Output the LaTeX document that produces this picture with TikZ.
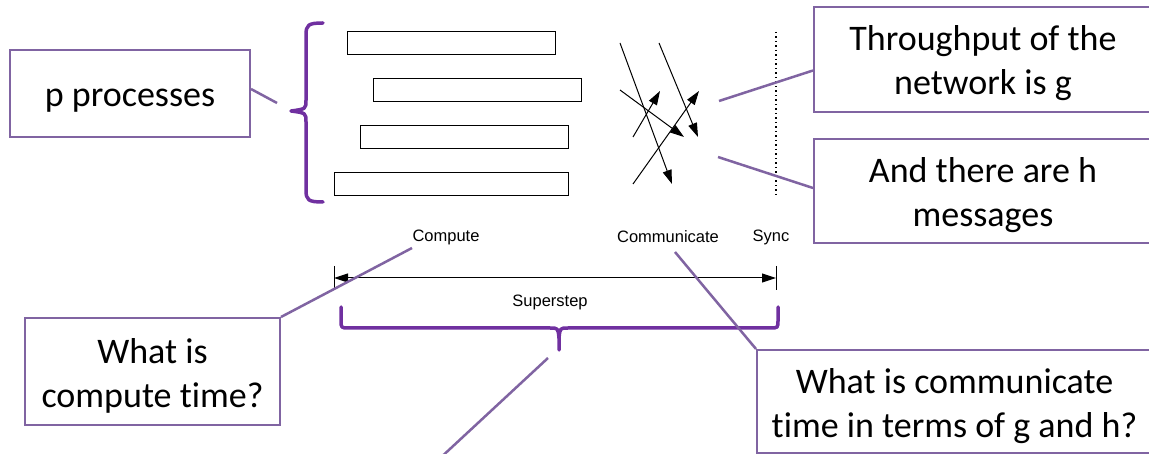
\documentclass[tikz,border=0pt]{standalone}
\usepackage{fontspec}
\setmainfont{Carlito}[Ligatures=NoCommon]
\newfontfamily\lblfont{Liberation Sans}
\usetikzlibrary{arrows.meta}

\definecolor{calloutpurple}{HTML}{8064A2}
\definecolor{bracepurple}{HTML}{7030A0}

% line strut so callout text is centred on the font's line box
\newcommand\linestrut{\rule[-8.5pt]{0pt}{44pt}}

\tikzset{
  callout/.style={draw=calloutpurple, line width=2pt, fill=white, inner sep=0pt,
    align=center, font=\fontsize{36}{44}\selectfont},
  conn/.style={draw=calloutpurple, line width=2.5pt},
  bracepath/.style={draw=bracepurple, line width=3.5pt, line cap=round, line join=round},
  procbar/.style={draw=black, line width=1pt, inner sep=0pt, minimum height=23pt},
  msg/.style={draw=black, line width=1pt, -{Triangle[length=14pt,width=9pt]}},
  lbl/.style={font=\lblfont\fontsize{16.5}{18}\selectfont, inner sep=0pt},
}

\begin{document}
\begin{tikzpicture}[x=1pt,y=-1pt]
\clip (0,0) rectangle (1149,454);
\fill[white] (0,0) rectangle (1149,454);

% processes bars
\node[procbar, minimum width=208pt] (bar1) at (451,43.5) {};
\node[procbar, minimum width=208pt] (bar2) at (477,90) {};
\node[procbar, minimum width=208pt] (bar3) at (464,137.5) {};
\node[procbar, minimum width=234pt] (bar4) at (451,184.5) {};

% left brace grouping the processes
\draw[bracepath] (323,23) .. controls (308,23) and (306,25) .. (306,35)
  -- (306,100) .. controls (306,109) .. (291,111)
  .. controls (306,113) .. (306,122)
  -- (306,190) .. controls (306,200) and (308,202) .. (323,202);

% message arrows
\coordinate (m1s) at (620,43);  \coordinate (m1e) at (672,184);
\coordinate (m2s) at (659,43);  \coordinate (m2e) at (698,137);
\coordinate (m3s) at (620,90);  \coordinate (m3e) at (684,137);
\coordinate (m4s) at (633,137); \coordinate (m4e) at (660,91);
\coordinate (m5s) at (633,184); \coordinate (m5e) at (699,91);
\draw[msg] (m1s) -- (m1e);
\draw[msg] (m2s) -- (m2e);
\draw[msg] (m3s) -- (m3e);
\draw[msg] (m4s) -- (m4e);
\draw[msg] (m5s) -- (m5e);

% barrier
\coordinate (syncTop) at (776,32);
\coordinate (syncBot) at (776,197);
\draw[line width=1.2pt, dash pattern=on 1.5pt off 3pt] (syncTop) -- (syncBot);

% phase labels
\node[lbl] (compute) at (446,237) {Compute};
\node[lbl] (communicate) at (668,237) {Communicate};
\node[lbl] (sync) at (771,237) {Sync};

% superstep span
\coordinate (tL) at (334,278);
\coordinate (tR) at (776,278);
\draw[line width=1pt] (334,266) -- (334,290);
\draw[line width=1pt] (776,266) -- (776,290);
\draw[line width=1pt, {Triangle[length=14pt,width=9pt]}-{Triangle[length=14pt,width=9pt]}] (tL) -- (tR);
\node[lbl] (superstep) at (550,302) {Superstep};

% bottom brace
\coordinate (braceTip) at (559,350);
\draw[bracepath] (341,307) -- (341,320) .. controls (341,328) .. (349,328)
  -- (550,328) .. controls (558,328) .. (559,338) -- (braceTip);
\draw[bracepath] (778,307) -- (778,320) .. controls (778,328) .. (770,328)
  -- (568,328) .. controls (560,328) .. (559,338);

% callouts
\node[callout, minimum width=240pt, minimum height=87pt] (pp) at (130,93.5) {\linestrut p processes};
\node[callout, minimum width=338pt, minimum height=105pt] (thr) at (983,59.5) {\linestrut Throughput of the\\\linestrut network is g};
\node[callout, minimum width=338pt, minimum height=104pt] (hmsg) at (983,191) {\linestrut And there are h\\\linestrut messages};
\node[callout, minimum width=255pt, minimum height=107pt] (cq) at (152.5,371.5) {\linestrut What is\\\linestrut compute time?};
\node[callout, minimum width=395pt, minimum height=103pt] (cm) at (954.5,401.5) {\linestrut What is communicate\\\linestrut time in terms of g and h?};

% callout leaders
\coordinate (ppTip) at (277,103);
\coordinate (thrTip) at (719,101);
\coordinate (hTip) at (718,157);
\coordinate (cqTip) at (412,248);
\coordinate (cmTip) at (675,252);
\coordinate (ssTip) at (548,358);
\coordinate (offBelow) at (437,461);
\draw[conn] ([yshift=4.5pt]pp.east) -- (ppTip);
\draw[conn] (thrTip) -- ([yshift=-11pt]thr.west);
\draw[conn] (hTip) -- ([yshift=3pt]hmsg.west);
\draw[conn] (cqTip) -- (cq.north east);
\draw[conn] (cmTip) -- (cm.north west);
\draw[conn] (ssTip) -- (offBelow);
\end{tikzpicture}
\end{document}
